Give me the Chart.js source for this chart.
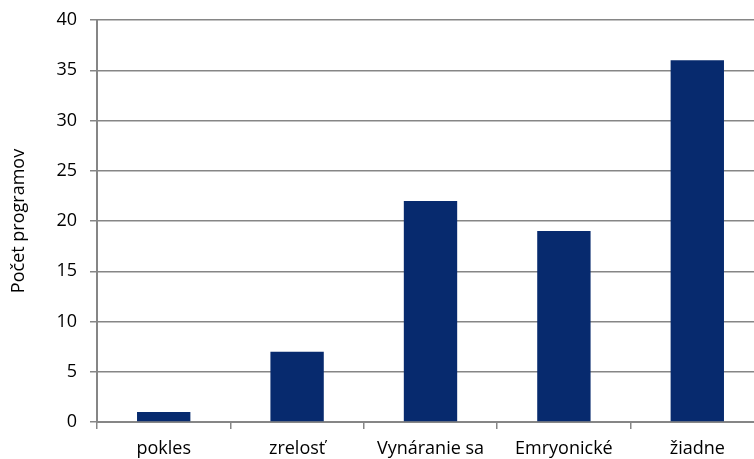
<!DOCTYPE html>
<html>
<head>
<meta charset="utf-8">
<script src="https://cdn.jsdelivr.net/npm/chart.js@4"></script>
<style>
  html, body { margin: 0; padding: 0; overflow: hidden; background: #fff; }
  #wrap { position: relative; width: 764px; height: 459px; }
</style>
</head>
<body>
<div id="wrap"><canvas id="graf"></canvas></div>
<script>
// Počet programov podľa kategórie
var kategorie = ["pokles", "zrelosť", "Vynáranie sa", "Emryonické", "žiadne"];
var pocty = [1, 7, 22, 19, 36];
var yMin = 0, yMax = 40, yKrok = 5;

var farba = 'rgb(7, 42, 110)';
var siva = 'rgb(134, 134, 134)';
var pismo = "'Open Sans', 'Liberation Sans', sans-serif";

window.onload = function() {
	var ctx = document.getElementById("graf").getContext("2d");
	window.myBar = new Chart(ctx, {
		type: 'bar',
		data: {
			labels: kategorie,
			datasets: [{
				label: 'Počet programov',
				data: pocty,
				backgroundColor: farba,
				borderWidth: 0,
				barPercentage: 0.4,
				categoryPercentage: 1.0
			}]
		},
		options: {
			responsive: true,
			maintainAspectRatio: false,
			animation: false,
			layout: { padding: { top: 20, left: 0, right: 0, bottom: 0 } },
			plugins: {
				legend: { display: false },
				tooltip: { enabled: false }
			},
			scales: {
				x: {
					offset: true,
					grid: {
						display: true,
						offset: true,
						drawOnChartArea: false,
						drawTicks: true,
						tickLength: 7,
						color: siva,
						lineWidth: 1.5
					},
					border: { display: true, color: siva, width: 2 },
					ticks: { color: '#000', font: { family: pismo, size: 18 }, padding: 9, maxRotation: 0 },
					afterFit: function(s) { s.height = 37; s.paddingLeft = 0; s.paddingRight = 0; }
				},
				y: {
					min: yMin,
					max: yMax,
					ticks: { stepSize: yKrok, color: '#000', font: { family: pismo, size: 18 }, padding: 13 },
					grid: { color: siva, lineWidth: 1.5, tickLength: 7 },
					border: { display: true, color: siva, width: 2 },
					title: { display: true, text: 'Počet programov', color: '#000', font: { family: pismo, size: 18 }, padding: { top: 8, bottom: 10 } },
					afterFit: function(s) { s.width = 97; s.paddingTop = 0; s.paddingBottom = 0; }
				}
			}
		}
	});
};
</script>
</body>
</html>
